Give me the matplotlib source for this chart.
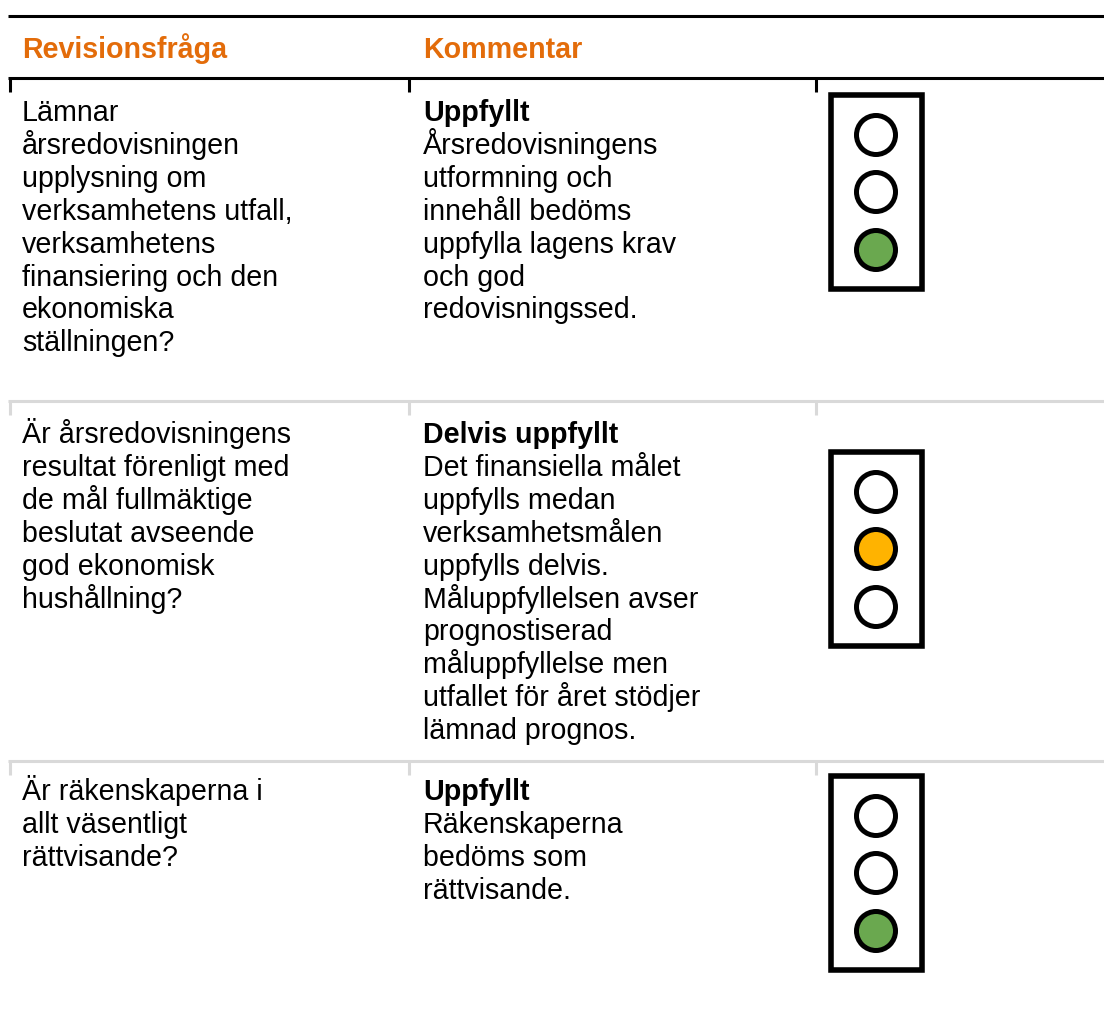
import matplotlib.pyplot as plt
from matplotlib.patches import Circle, Rectangle

plt.rcParams['font.family'] = ['Liberation Sans', 'DejaVu Sans']

# Tabellens innehall
headers = ["Revisionsfråga", "Kommentar"]
questions = [
    ["Lämnar", "årsredovisningen", "upplysning om", "verksamhetens utfall,",
     "verksamhetens", "finansiering och den", "ekonomiska", "ställningen?"],
    ["Är årsredovisningens", "resultat förenligt med", "de mål fullmäktige",
     "beslutat avseende", "god ekonomisk", "hushållning?"],
    ["Är räkenskaperna i", "allt väsentligt", "rättvisande?"],
]
verdicts = ["Uppfyllt", "Delvis uppfyllt", "Uppfyllt"]
comments = [
    ["Årsredovisningens", "utformning och", "innehåll bedöms", "uppfylla lagens krav",
     "och god", "redovisningssed."],
    ["Det finansiella målet", "uppfylls medan", "verksamhetsmålen", "uppfylls delvis.",
     "Måluppfyllelsen avser", "prognostiserad", "måluppfyllelse men",
     "utfallet för året stödjer", "lämnad prognos."],
    ["Räkenskaperna", "bedöms som", "rättvisande."],
]
# vilken lampa som lyser (0 = overst)
lit = [2, 1, 2]

orange = '#E36C0A'
lamp_colors = {2: '#6AA84F', 1: '#FFB300'}
grey = '#D9D9D9'

row_baselines = [121, 443, 800]
light_tops = [92, 449, 773]
rule_y = [77.5, 400.5, 761]
rule_colors = ['black', grey, grey]
col_text_x = [22, 423]
tick_x = [10, 409, 816]
fs = 20.6
line_h = 32.9

fig = plt.figure(figsize=(11.04, 10.26), dpi=100)
ax = fig.add_axes([0, 0, 1, 1])
ax.set_xlim(0, 1104)
ax.set_ylim(1026, 0)
ax.axis('off')

# Linjer
ax.plot([8, 1104], [16, 16], color='black', lw=2.2, solid_capstyle='butt')
for y, c in zip(rule_y, rule_colors):
    ax.plot([8, 1104], [y, y], color=c, lw=2.2, solid_capstyle='butt')
    for x in tick_x:
        ax.plot([x, x], [y, y + 14], color=c, lw=2.2, solid_capstyle='butt')

# Rubriker
for x, h in zip(col_text_x, headers):
    ax.text(x, 58, h, color=orange, fontsize=fs, fontweight='bold', va='baseline')

# Rader
for i in range(3):
    base = row_baselines[i]
    for n, line in enumerate(questions[i]):
        ax.text(col_text_x[0], base + n * line_h, line, color='black', fontsize=fs, va='baseline')
    ax.text(col_text_x[1], base, verdicts[i], color='black', fontsize=fs, fontweight='bold', va='baseline')
    for n, line in enumerate(comments[i]):
        ax.text(col_text_x[1], base + (n + 1) * line_h, line, color='black', fontsize=fs, va='baseline')

    # Trafikljus
    top = light_tops[i]
    ax.add_patch(Rectangle((831, top + 3), 91, 194, fc='white', ec='black', lw=4))
    for k, dy in enumerate([43, 100, 158]):
        fc = lamp_colors[lit[i]] if k == lit[i] else 'white'
        ax.add_patch(Circle((876, top + dy), 19.5, fc=fc, ec='black', lw=3.6))

fig.savefig('out.png', dpi=100)
